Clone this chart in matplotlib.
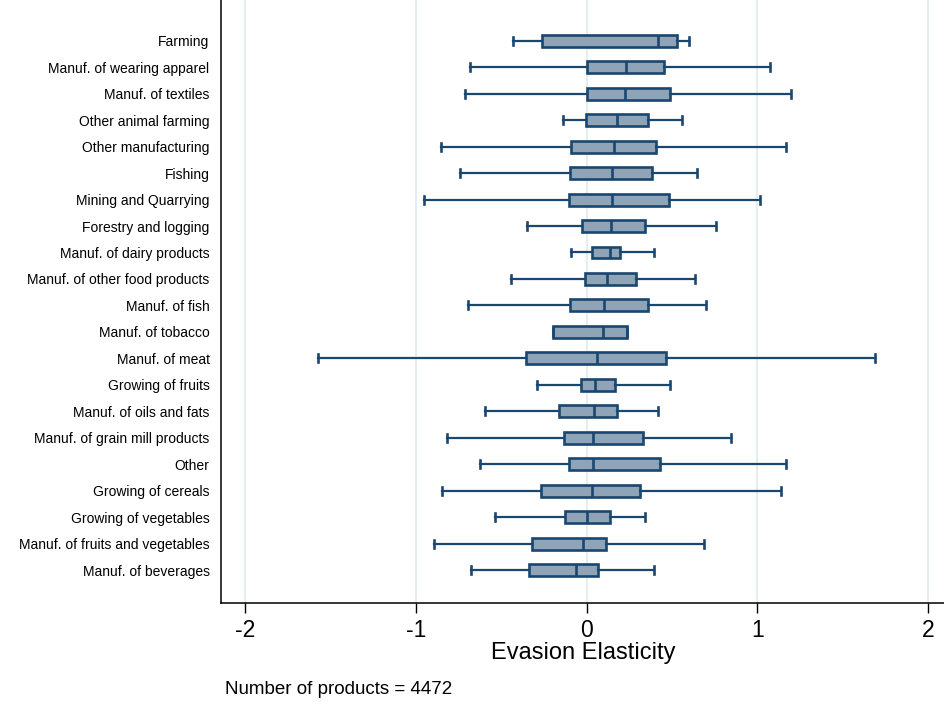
import matplotlib
matplotlib.use("Agg")
import matplotlib.pyplot as plt
import numpy as np

plt.rcParams['font.family'] = ['Liberation Sans', 'DejaVu Sans']

# sectors, top to bottom, with box plot stats
sectors = ["Farming", "Manuf. of wearing apparel", "Manuf. of textiles",
           "Other animal farming", "Other manufacturing", "Fishing",
           "Mining and Quarrying", "Forestry and logging",
           "Manuf. of dairy products", "Manuf. of other food products",
           "Manuf. of fish", "Manuf. of tobacco", "Manuf. of meat",
           "Growing of fruits", "Manuf. of oils and fats",
           "Manuf. of grain mill products", "Other", "Growing of cereals",
           "Growing of vegetables", "Manuf. of fruits and vegetables",
           "Manuf. of beverages"]
whis_lo = [-0.433, -0.681, -0.710, -0.139, -0.854, -0.741, -0.953, -0.349,
           -0.090, -0.443, -0.696, -0.199, -1.575, -0.291, -0.595, -0.817,
           -0.626, -0.846, -0.534, -0.895, -0.678]
q1 = [-0.263, 0.004, 0.004, -0.004, -0.094, -0.100, -0.102, -0.029,
      0.029, -0.008, -0.098, -0.199, -0.353, -0.035, -0.160, -0.131,
      -0.105, -0.265, -0.125, -0.318, -0.337]
med = [0.415, 0.232, 0.222, 0.175, 0.160, 0.150, 0.148, 0.144,
       0.138, 0.119, 0.101, 0.097, 0.060, 0.047, 0.043, 0.039,
       0.037, 0.031, 0.004, -0.020, -0.063]
q3 = [0.526, 0.452, 0.487, 0.362, 0.405, 0.382, 0.480, 0.339,
      0.197, 0.290, 0.360, 0.234, 0.464, 0.166, 0.179, 0.327,
      0.427, 0.310, 0.136, 0.111, 0.066]
whis_hi = [0.602, 1.074, 1.195, 0.559, 1.167, 0.647, 1.015, 0.758,
           0.395, 0.635, 0.698, 0.234, 1.690, 0.485, 0.419, 0.846,
           1.167, 1.140, 0.339, 0.688, 0.394]
n_products = 4472

navy = "#1a476f"
fill = "#90a4b8"

stats = []
for i in range(len(sectors)):
    stats.append({"whislo": whis_lo[i], "q1": q1[i], "med": med[i],
                  "q3": q3[i], "whishi": whis_hi[i], "fliers": []})

fig = plt.figure(figsize=(9.45, 7.02), dpi=100)
ax = fig.add_axes([0.2335, 0.1406, 0.7665, 0.8594])

pos = np.arange(1, len(sectors) + 1)
ax.bxp(stats, positions=pos, vert=False, widths=0.45, patch_artist=True,
       showfliers=False, capwidths=0.3,
       boxprops=dict(facecolor=fill, edgecolor=navy, linewidth=1.9),
       medianprops=dict(color=navy, linewidth=1.9),
       whiskerprops=dict(color=navy, linewidth=1.6),
       capprops=dict(color=navy, linewidth=1.9))

ax.set_xlim(-2.143, 2.098)
ax.set_ylim(22.25, -0.537)
ax.set_xticks([-2, -1, 0, 1, 2])
ax.set_xticklabels(["-2", "-1", "0", "1", "2"])
ax.set_yticks(pos)
ax.set_yticklabels(sectors, fontsize=10)
ax.tick_params(axis='y', length=0, pad=8)
ax.tick_params(axis='x', length=7, width=1, labelsize=16.5, pad=4)
ax.xaxis.grid(True, color="#e3eef0", linewidth=1.4)
ax.set_axisbelow(True)
for s in ["top", "right"]:
    ax.spines[s].set_visible(False)
ax.spines["left"].set_linewidth(1.1)
ax.spines["bottom"].set_linewidth(1.1)

ax.set_xlabel("Evasion Elasticity", fontsize=17, labelpad=0)
fig.text(225 / 945, 1 - 690 / 702, "Number of products = %d" % n_products,
         fontsize=13.5, va="center", ha="left")

fig.savefig("out.png", dpi=100)
